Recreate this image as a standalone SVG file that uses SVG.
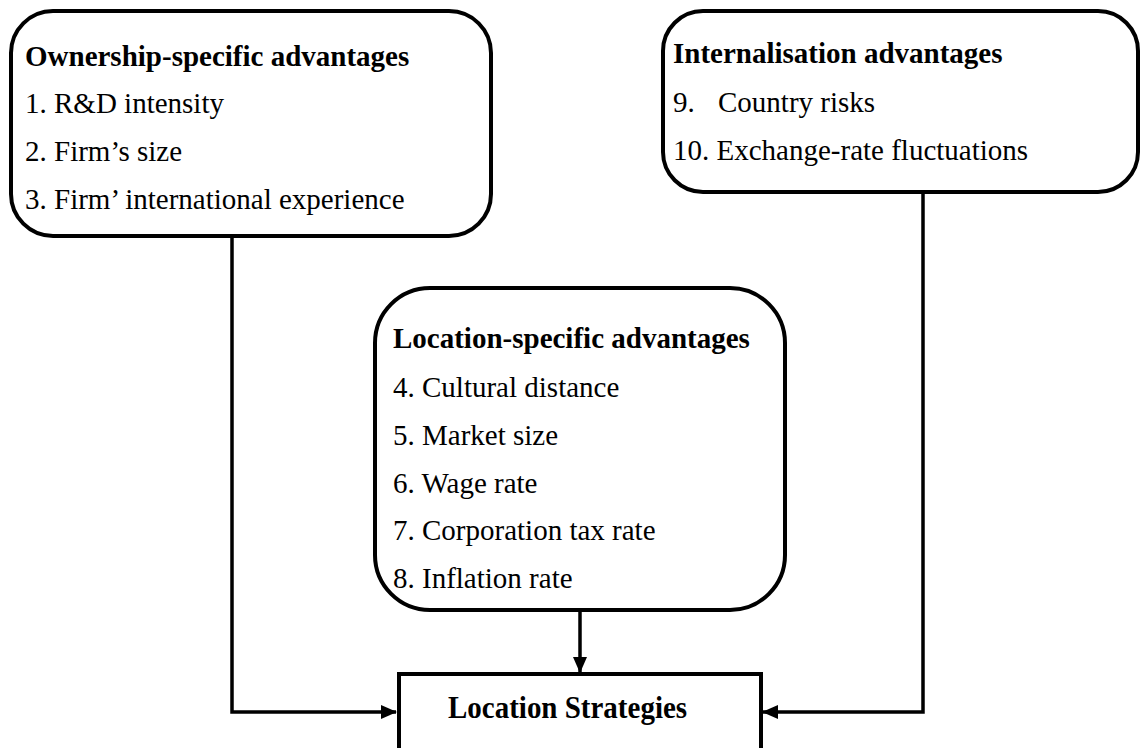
<svg xmlns="http://www.w3.org/2000/svg" width="1141" height="748" viewBox="0 0 1141 748">
  <style>
    .box { fill: #ffffff; stroke: #000000; stroke-width: 4; }
    .wire { fill: none; stroke: #000000; stroke-width: 3.5; }
    .head { font-family: "Liberation Serif", "Times New Roman", serif; font-size: 29px; font-weight: bold; fill: #000000; }
    .item { font-family: "Liberation Serif", "Times New Roman", serif; font-size: 29px; fill: #000000; }
  </style>
  <defs>
    <marker id="arrow" markerWidth="16" markerHeight="14" refX="15" refY="7" orient="auto" markerUnits="userSpaceOnUse">
      <path d="M0,0 L16,7 L0,14 Z" fill="#000000"/>
    </marker>
  </defs>

  <!-- connectors -->
  <g id="connectors">
    <path class="wire" d="M232,236 L232,712 L396,712" marker-end="url(#arrow)"/>
    <path class="wire" d="M923,192 L923,712 L763,712" marker-end="url(#arrow)"/>
    <path class="wire" d="M580,610 L580,672" marker-end="url(#arrow)"/>
  </g>

  <!-- ownership advantages -->
  <g id="ownership">
    <rect class="box" x="11" y="11" width="480" height="225" rx="42" ry="42"/>
    <text class="head" x="25" y="66">Ownership-specific advantages</text>
    <text class="item" x="25" y="113">1. R&amp;D intensity</text>
    <text class="item" x="25" y="161">2. Firm’s size</text>
    <text class="item" x="25" y="209">3. Firm’ international experience</text>
  </g>

  <!-- internalisation advantages -->
  <g id="internalisation">
    <rect class="box" x="663" y="11" width="475" height="181" rx="40" ry="40"/>
    <text class="head" x="673" y="63">Internalisation advantages</text>
    <text class="item" x="673" y="112">9.</text>
    <text class="item" x="718" y="112">Country risks</text>
    <text class="item" x="673" y="160">10. Exchange-rate fluctuations</text>
  </g>

  <!-- location advantages -->
  <g id="location">
    <rect class="box" x="375" y="288" width="410" height="322" rx="55" ry="55"/>
    <text class="head" x="393" y="348">Location-specific advantages</text>
    <text class="item" x="393" y="397">4. Cultural distance</text>
    <text class="item" x="393" y="445">5. Market size</text>
    <text class="item" x="393" y="493">6. Wage rate</text>
    <text class="item" x="393" y="540">7. Corporation tax rate</text>
    <text class="item" x="393" y="588">8. Inflation rate</text>
  </g>

  <!-- outcome -->
  <g id="strategies">
    <rect class="box" x="399" y="674" width="362" height="120"/>
    <text class="head" x="448" y="718" transform="translate(448,718) scale(1,1.1) translate(-448,-718)">Location Strategies</text>
  </g>
</svg>
